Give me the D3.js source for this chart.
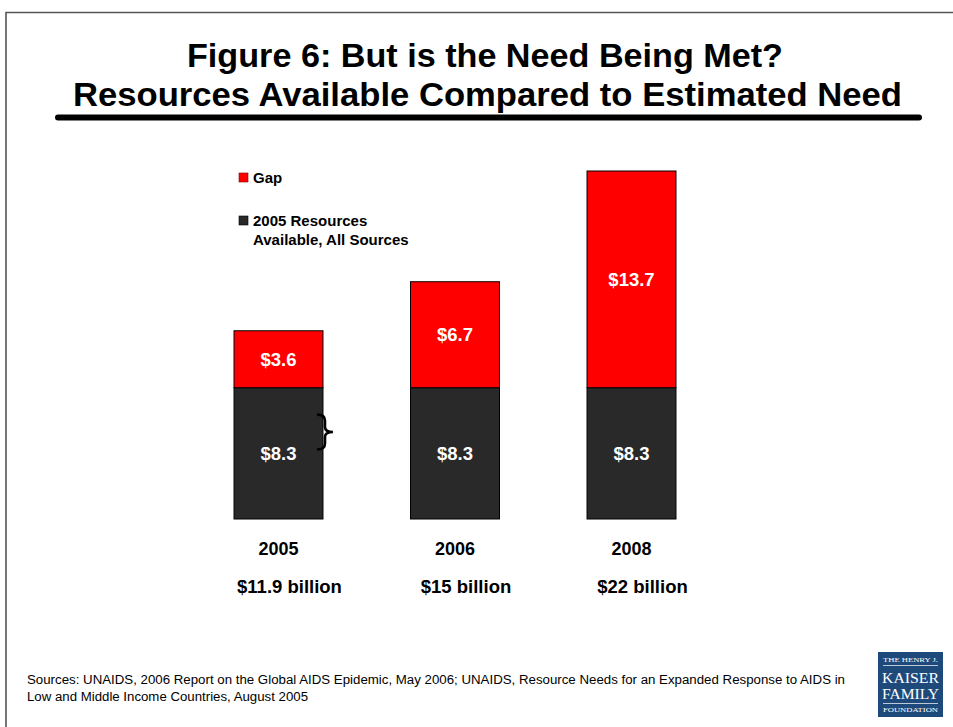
<!DOCTYPE html>
<html>
<head>
<meta charset="utf-8">
<script src="https://cdn.jsdelivr.net/npm/d3@7"></script>
<style>
  html, body { margin: 0; padding: 0; background: #fff; }
  svg { display: block; font-family: "Liberation Sans", Arial, sans-serif; }
</style>
</head>
<body>
<div id="d3-container"></div>
<script>
/* CONSTANTS AND GLOBALS */
const width = 953,
  height = 727;

/* DATA */
const years = ["2005", "2006", "2008"];
const resources = [8.3, 8.3, 8.3];
const gap = [3.6, 6.7, 13.7];
const totalLabels = ["$11.9 billion", "$15 billion", "$22 billion"];
const legendLabels = [["Gap"], ["2005 Resources", "Available, All Sources"]];
const seriesKeys = ["resources", "gap"];
const seriesColors = { resources: "#292929", gap: "#ff0000" };
const titleLines = ["Figure 6: But is the Need Being Met?", "Resources Available Compared to Estimated Need"];
const sourceLines = [
  "Sources: UNAIDS, 2006 Report on the Global AIDS Epidemic, May 2006; UNAIDS, Resource Needs for an Expanded Response to AIDS in",
  "Low and Middle Income Countries, August 2005"
];
// brace spans part of the 2005 resources bar (data units)
const braceRange = [4.4, 6.6];

let svg, xScale, yScale;

init();

function init() {
  svg = d3.select("#d3-container")
    .append("svg")
    .attr("width", width)
    .attr("height", height);

  // slide frame (top + left edge)
  svg.append("path")
    .attr("d", `M6,${height} V12.5 H${width}`)
    .attr("fill", "none")
    .attr("stroke", "#555")
    .attr("stroke-width", 1.6);

  // + TITLE
  const titleSpecs = [
    { cx: 485, y: 67, len: 596 },
    { cx: 487.5, y: 106, len: 829 }
  ];
  svg.selectAll(".title")
    .data(titleLines)
    .join("text")
    .attr("class", "title")
    .attr("x", (d, i) => titleSpecs[i].cx)
    .attr("y", (d, i) => titleSpecs[i].y)
    .attr("text-anchor", "middle")
    .attr("font-size", 34)
    .attr("font-weight", "bold")
    .attr("textLength", (d, i) => titleSpecs[i].len)
    .attr("lengthAdjust", "spacingAndGlyphs")
    .text(d => d);

  svg.append("line")
    .attr("x1", 58).attr("x2", 919)
    .attr("y1", 117.5).attr("y2", 117.5)
    .attr("stroke", "#000")
    .attr("stroke-width", 6)
    .attr("stroke-linecap", "round");

  // + SCALES
  xScale = d3.scaleBand()
    .domain(years)
    .range([190.25, 719.75])
    .paddingInner(0.496)
    .paddingOuter(0.248);

  yScale = d3.scaleLinear()
    .domain([0, 22])
    .range([519, 171]);

  const table = years.map((y, i) => ({ year: y, resources: resources[i], gap: gap[i], total: totalLabels[i] }));
  const stacked = d3.stack().keys(seriesKeys)(table);

  // + BARS
  const layer = svg.selectAll(".layer")
    .data(stacked)
    .join("g")
    .attr("class", "layer")
    .attr("fill", d => seriesColors[d.key]);

  layer.selectAll("rect")
    .data(d => d)
    .join("rect")
    .attr("x", d => xScale(d.data.year))
    .attr("y", d => yScale(d[1]))
    .attr("width", xScale.bandwidth())
    .attr("height", d => yScale(d[0]) - yScale(d[1]))
    .attr("stroke", "#000")
    .attr("stroke-width", 1);

  layer.selectAll(".val")
    .data(d => d)
    .join("text")
    .attr("class", "val")
    .attr("x", d => xScale(d.data.year) + xScale.bandwidth() / 2)
    .attr("y", d => (yScale(d[0]) + yScale(d[1])) / 2)
    .attr("dy", "0.36em")
    .attr("text-anchor", "middle")
    .attr("fill", "#fff")
    .attr("font-size", 18.5)
    .attr("font-weight", "bold")
    .text(d => "$" + (d[1] - d[0]).toFixed(1));

  // + CATEGORY LABELS
  svg.selectAll(".year")
    .data(table)
    .join("text")
    .attr("class", "year")
    .attr("x", d => xScale(d.year) + xScale.bandwidth() / 2)
    .attr("y", 555)
    .attr("text-anchor", "middle")
    .attr("font-size", 18)
    .attr("font-weight", "bold")
    .text(d => d.year);

  // totals sit a little right of the bar centres in the original slide
  svg.selectAll(".total")
    .data(table)
    .join("text")
    .attr("class", "total")
    .attr("x", d => xScale(d.year) + xScale.bandwidth() / 2)
    .attr("dx", 11)
    .attr("y", 593)
    .attr("text-anchor", "middle")
    .attr("font-size", 18.5)
    .attr("font-weight", "bold")
    .text(d => d.total);

  // + BRACE next to the first bar
  const bx = xScale(years[0]) + xScale.bandwidth();
  const bTop = yScale(braceRange[1]),
    bBot = yScale(braceRange[0]),
    bMid = (bTop + bBot) / 2;
  svg.append("path")
    .attr("d", `M${bx - 6},${bTop} Q${bx + 2},${bTop} ${bx + 2},${bTop + 6}
      V${bMid - 5} Q${bx + 2},${bMid} ${bx + 10},${bMid}
      Q${bx + 2},${bMid} ${bx + 2},${bMid + 5}
      V${bBot - 6} Q${bx + 2},${bBot} ${bx - 6},${bBot}`)
    .attr("fill", "none")
    .attr("stroke", "#000")
    .attr("stroke-width", 2.6);

  // + LEGEND
  const legendKeys = ["gap", "resources"];
  const legend = svg.selectAll(".legend")
    .data(legendKeys)
    .join("g")
    .attr("class", "legend")
    .attr("transform", (d, i) => `translate(239,${173 + i * 43})`);

  legend.append("rect")
    .attr("width", 9)
    .attr("height", 9)
    .attr("fill", d => seriesColors[d])
    .attr("stroke", d => d === "gap" ? "#8b0000" : "#000")
    .attr("stroke-width", 0.6);

  legend.append("text")
    .attr("x", 14)
    .attr("y", 10)
    .attr("font-size", 15)
    .attr("font-weight", "bold")
    .selectAll("tspan")
    .data((d, i) => legendLabels[i])
    .join("tspan")
    .attr("x", 14)
    .attr("dy", (d, i) => i === 0 ? 0 : 19)
    .text(d => d);

  // + SOURCES
  svg.selectAll(".source")
    .data(sourceLines)
    .join("text")
    .attr("class", "source")
    .attr("x", 27)
    .attr("y", (d, i) => 684 + i * 16.5)
    .attr("font-size", 12)
    .attr("textLength", (d, i) => i === 0 ? 818 : 281)
    .attr("lengthAdjust", "spacingAndGlyphs")
    .text(d => d);

  // + LOGO
  const logo = svg.append("g").attr("transform", "translate(878,652)");
  logo.append("rect")
    .attr("width", 65)
    .attr("height", 65)
    .attr("fill", "#1e4a7b");
  const serif = "'Liberation Serif', 'DejaVu Serif', serif";
  const logoText = [
    { t: "THE HENRY J.", y: 10, s: 6.5 },
    { t: "KAISER", y: 31, s: 15.5 },
    { t: "FAMILY", y: 47, s: 15.5 },
    { t: "FOUNDATION", y: 60, s: 6.5 }
  ];
  logo.selectAll("text")
    .data(logoText)
    .join("text")
    .attr("x", 32.5)
    .attr("y", d => d.y)
    .attr("text-anchor", "middle")
    .attr("font-family", serif)
    .attr("font-size", d => d.s)
    .attr("fill", "#fff")
    .attr("textLength", d => d.s > 10 ? 57 : 55)
    .attr("lengthAdjust", "spacingAndGlyphs")
    .text(d => d.t);
  logo.selectAll("line")
    .data([13.5, 51.5])
    .join("line")
    .attr("x1", 5).attr("x2", 60)
    .attr("y1", d => d).attr("y2", d => d)
    .attr("stroke", "#fff")
    .attr("stroke-width", 0.7);
}
</script>
</body>
</html>
